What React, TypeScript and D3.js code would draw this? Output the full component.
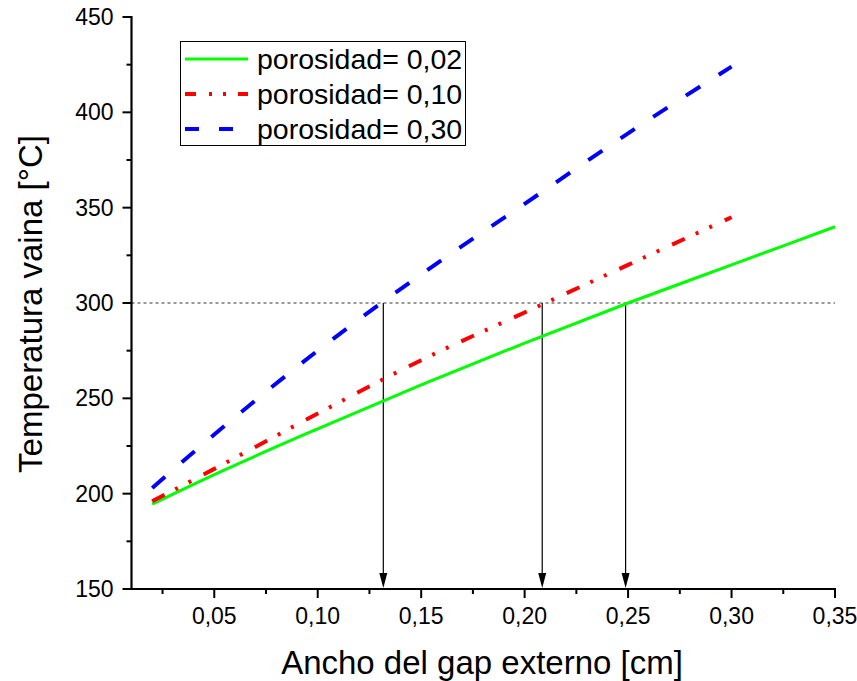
import React from "react";
import * as d3 from "d3";

const xTicks = [0.05, 0.1, 0.15, 0.2, 0.25, 0.3, 0.35];
const xTickLabels = ["0,05", "0,10", "0,15", "0,20", "0,25", "0,30", "0,35"];
const xMinor = [0.025, 0.075, 0.125, 0.175, 0.225, 0.275, 0.325];
const yTicks = [150, 200, 250, 300, 350, 400, 450];
const yMinor = [175, 225, 275, 325, 375, 425];

const gapX = [0.02, 0.05, 0.1, 0.15, 0.2, 0.25, 0.3, 0.35];
const tempP002 = [194.5, 210, 234, 257, 279, 300, 320, 340];
const gapXShort = [0.02, 0.05, 0.1, 0.15, 0.2, 0.25, 0.3];
const tempP010 = [196, 213, 242, 270, 295, 320, 345];
const tempP030 = [203, 231, 275, 315, 352, 389, 424];

const refTemp = 300;
const arrowX = [0.1317, 0.2085, 0.2488];

const seriesNames = ["porosidad= 0,02", "porosidad= 0,10", "porosidad= 0,30"];

export default function App() {
  const W = 857, H = 681;
  const x = d3.scaleLinear().domain([0.01, 0.35]).range([131.5, 835]);
  const y = d3.scaleLinear().domain([150, 450]).range([589, 17]);
  const line = d3
    .line<[number, number]>()
    .x((d) => x(d[0]))
    .y((d) => y(d[1]))
    .curve(d3.curveMonotoneX);

  const series = [
    { xs: gapX, ys: tempP002, color: "#00ff00", width: 3, dash: "none", legDash: "none" },
    { xs: gapXShort, ys: tempP010, color: "#ff0000", width: 4, dash: "14 12 3 12 3 14", legDash: "11 13 3 11 3 12" },
    { xs: gapXShort, ys: tempP030, color: "#0000ff", width: 4, dash: "17 22", legDash: "14 20" },
  ];
  const font = "Arial, 'Liberation Sans', sans-serif";
  const x0 = x(0.01), y0 = y(150);

  return (
    <svg width={W} height={H} style={{ position: "absolute", left: 0, top: 0 }} fontFamily={font}>
      <rect width={W} height={H} fill="#fff" />
      {/* reference dashed line */}
      <line x1={x0} x2={x(0.35)} y1={y(refTemp)} y2={y(refTemp)} stroke="#333" strokeWidth={1} strokeDasharray="3 3" />
      {/* arrows */}
      {arrowX.map((v, i) => (
        <g key={i}>
          <line x1={x(v)} x2={x(v)} y1={y(refTemp)} y2={y0 - 10} stroke="#000" strokeWidth={1.2} />
          <path d={`M${x(v) - 4},${y0 - 16} L${x(v) + 4},${y0 - 16} L${x(v)},${y0 - 1} Z`} fill="#000" />
        </g>
      ))}
      {/* series */}
      {series.map((s, i) => (
        <path
          key={i}
          d={line(s.xs.map((v, j) => [v, s.ys[j]] as [number, number])) || ""}
          fill="none"
          stroke={s.color}
          strokeWidth={s.width}
          strokeDasharray={s.dash}
        />
      ))}
      {/* axes */}
      <line x1={x0} x2={x0} y1={y(450) - 1} y2={y0 + 1} stroke="#000" strokeWidth={2.2} />
      <line x1={x0 - 1} x2={x(0.35) + 1} y1={y0} y2={y0} stroke="#000" strokeWidth={2.2} />
      {xTicks.map((t, i) => (
        <g key={i}>
          <line x1={x(t)} x2={x(t)} y1={y0} y2={y0 + 9} stroke="#000" strokeWidth={2} />
          <text x={x(t)} y={y0 + 35} fontSize={23} textAnchor="middle" fill="#000">
            {xTickLabels[i]}
          </text>
        </g>
      ))}
      {xMinor.map((t, i) => (
        <line key={i} x1={x(t)} x2={x(t)} y1={y0} y2={y0 + 5} stroke="#000" strokeWidth={2} />
      ))}
      {yTicks.map((t, i) => (
        <g key={i}>
          <line x1={x0 - 9} x2={x0} y1={y(t)} y2={y(t)} stroke="#000" strokeWidth={2} />
          <text x={x0 - 18} y={y(t)} dy="0.35em" fontSize={23} textAnchor="end" fill="#000">
            {t}
          </text>
        </g>
      ))}
      {yMinor.map((t, i) => (
        <line key={i} x1={x0 - 5} x2={x0} y1={y(t)} y2={y(t)} stroke="#000" strokeWidth={2} />
      ))}
      {/* axis titles */}
      <text x={482} y={674} fontSize={33} textAnchor="middle" fill="#000">
        Ancho del gap externo [cm]
      </text>
      <text transform="translate(42,304) rotate(-90)" fontSize={33} textAnchor="middle" fill="#000">
        Temperatura vaina [°C]
      </text>
      {/* legend */}
      <rect x={180.5} y={41.5} width={285} height={104} fill="#fff" stroke="#000" strokeWidth={1} />
      {series.map((s, i) => (
        <g key={i}>
          <line x1={185} x2={248} y1={59 + i * 35} y2={59 + i * 35} stroke={s.color} strokeWidth={s.width} strokeDasharray={s.legDash} />
          <text x={257} y={59 + i * 35} dy="0.35em" fontSize={28.5} fill="#000">
            {seriesNames[i]}
          </text>
        </g>
      ))}
    </svg>
  );
}
